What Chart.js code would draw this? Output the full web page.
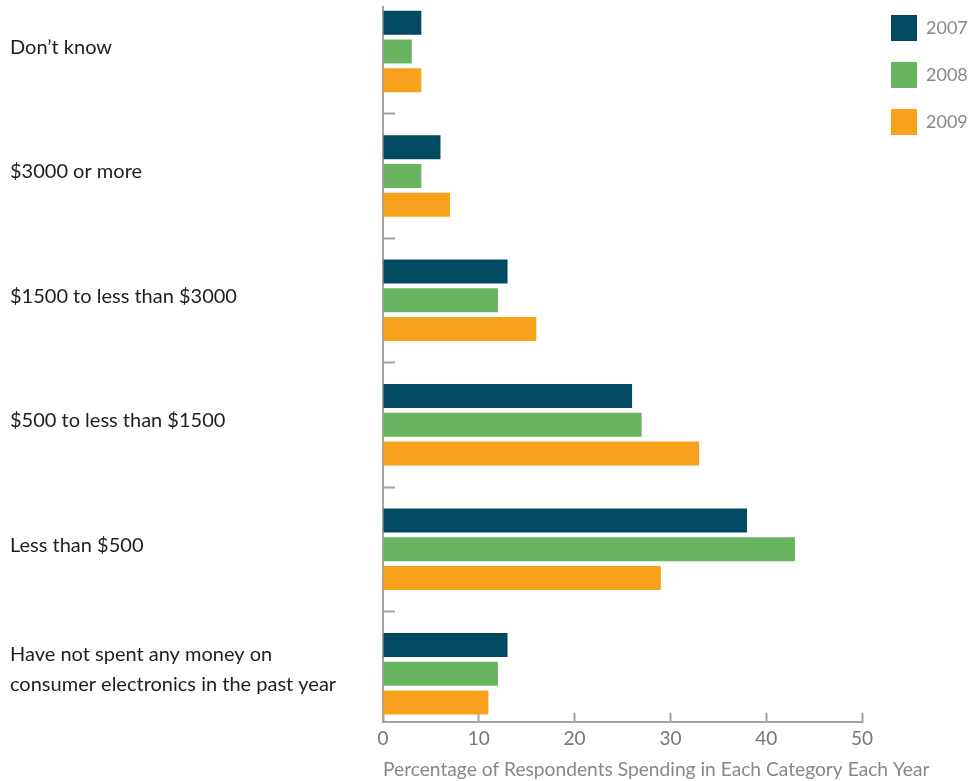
<!DOCTYPE html>
<html>
<head>
<meta charset="utf-8">
<title>Consumer electronics spending</title>
<script src="https://cdn.jsdelivr.net/npm/chart.js@4.4.1/dist/chart.umd.min.js"></script>
<style>
  html, body { margin: 0; padding: 0; background: #fff; }
  #wrap { width: 973px; height: 781px; }
</style>
</head>
<body>
<div id="wrap"><canvas id="spendChart" width="973" height="781"></canvas></div>
<script>
// categories top to bottom
const categories = [
  'Don\u2019t know',
  '$3000 or more',
  '$1500 to less than $3000',
  '$500 to less than $1500',
  'Less than $500',
  ['Have not spent any money on', 'consumer electronics in the past year'],
];
const years = ['2007', '2008', '2009'];
const values2007 = [4, 6, 13, 26, 38, 13];
const values2008 = [3, 4, 12, 27, 43, 12];
const values2009 = [4, 7, 16, 33, 29, 11];
const xTicks = [0, 10, 20, 30, 40, 50];
const xTitle = 'Percentage of Respondents Spending in Each Category Each Year';

const COLORS = ['#024a62', '#69b461', '#f7a11c'];
const AXIS = '#a3a3a3';
const FONT = 'Lato, "Open Sans", sans-serif';

const series = [values2007, values2008, values2009];

const toPoints = arr => arr.map((v, i) => ({ x: v, y: i }));

// the axis title runs past the end of the axis, so let its scale reach the canvas edge;
// legend sits a little further right and higher than chart.js puts it
const layoutTweaks = {
  id: 'layoutTweaks',
  afterLayout(chart) {
    const s = chart.scales.xTitle;
    s.right = chart.width;
    s.width = s.right - s.left;
    const lg = chart.legend;
    lg.left += 8;
    lg.right = chart.width;
    lg.width = lg.right - lg.left;
    lg.top -= 13;
  },
};

new Chart(document.getElementById('spendChart'), {
  type: 'bar',
  data: {
    datasets: years.map((yr, k) => ({
      label: yr,
      data: toPoints(series[k]),
      backgroundColor: COLORS[k],
      borderWidth: 0,
      categoryPercentage: 0.693,
      barPercentage: 0.835,
    })),
  },
  plugins: [layoutTweaks],
  options: {
    indexAxis: 'y',
    responsive: false,
    animation: false,
    layout: { padding: { left: 10, top: 7, right: 0, bottom: 0 } },
    plugins: {
      tooltip: { enabled: false },
      legend: {
        position: 'right',
        align: 'start',
        maxWidth: 103,
        labels: {
          boxWidth: 26, boxHeight: 26, padding: 21,
          color: '#888', font: { family: FONT, size: 18 },
        },
      },
    },
    scales: {
      y: {
        type: 'linear',
        reverse: true,
        offset: false,
        min: -0.357,
        max: 5.386,
        afterBuildTicks: s => { s.ticks = categories.map((c, i) => ({ value: i })); },
        afterFit: s => { s.width = 373; s.paddingTop = 0; s.paddingBottom = 0; },
        grid: {
          drawOnChartArea: false, offset: true,
          tickLength: -12, tickWidth: 2, tickColor: AXIS,
        },
        border: { color: AXIS, width: 2 },
        ticks: {
          autoSkip: false, crossAlign: 'far', labelOffset: -4,
          color: '#1e1e1e', font: { family: FONT, size: 20, lineHeight: 1.5 },
          callback: v => categories[v],
        },
      },
      x: {
        type: 'linear',
        min: xTicks[0],
        max: xTicks[xTicks.length - 1],
        afterBuildTicks: s => { s.ticks = xTicks.map(v => ({ value: v })); },
        afterFit: s => { s.paddingRight = 111; s.height = 32; },
        grid: {
          drawOnChartArea: false,
          tickLength: -9, tickWidth: 2, tickColor: AXIS,
        },
        border: { color: AXIS, width: 2 },
        ticks: { color: '#777', padding: 15, font: { family: FONT, size: 19 } },
      },
      xTitle: {
        type: 'linear',
        position: 'bottom',
        grid: { display: false, drawTicks: false },
        border: { display: false },
        ticks: { display: false },
        title: {
          display: true, align: 'start', text: xTitle,
          color: '#888', font: { family: FONT, size: 19.2, lineHeight: 1 },
          padding: { top: 6, bottom: 2 },
        },
      },
    },
  },
});
</script>
</body>
</html>
